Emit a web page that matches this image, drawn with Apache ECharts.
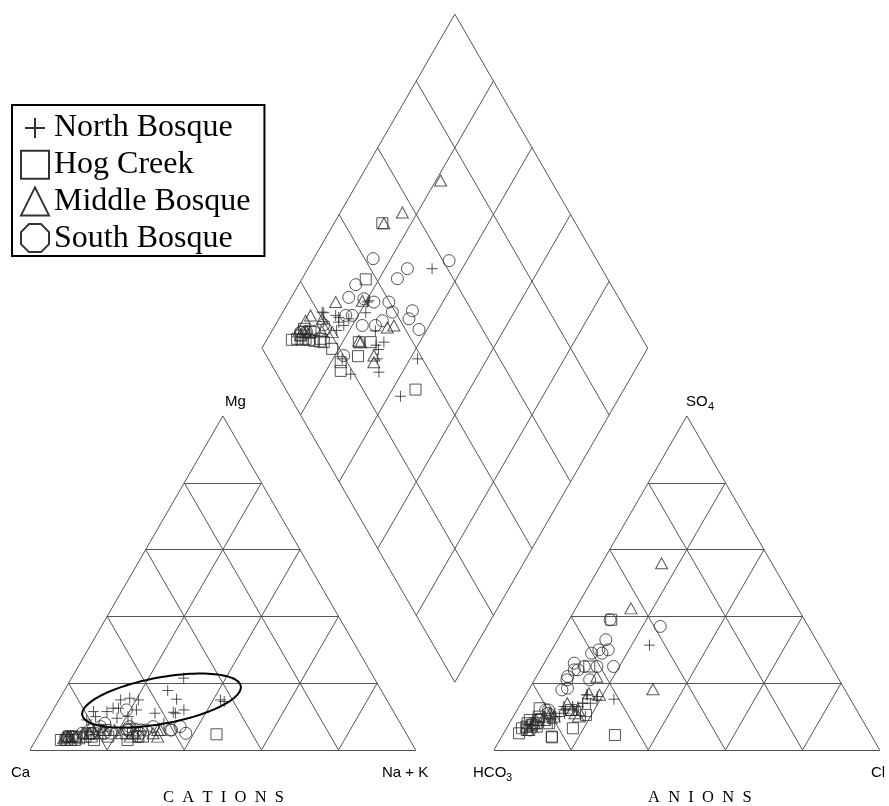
<!DOCTYPE html>
<html>
<head>
<meta charset="utf-8">
<script src="https://cdn.jsdelivr.net/npm/echarts@6/dist/echarts.min.js"></script>
<style>
  html, body { margin: 0; padding: 0; background: #fff; }
  #chart { width: 889px; height: 806px; }
</style>
</head>
<body>
<div id="chart"></div>
<script>
// Piper diagram: cation triangle, anion triangle and the central diamond.
// Each sample is given as percent of milliequivalents.

const seriesNames = ['North Bosque', 'Hog Creek', 'Middle Bosque', 'South Bosque'];
const gridTicks = [0, 20, 40, 60, 80, 100];

// North Bosque
const northMg  = [11, 11.5, 12.5, 15, 10, 9, 11.5, 15, 9.5, 17.8, 8, 11.3, 12, 15, 14.5, 11, 8, 15.5, 12, 21.5, 12.5, 15.2, 10];
const northNaK = [32.2, 10.7, 15.3, 20.6, 20.4, 10.2, 14.2, 16.0, 17.8, 26.8, 30.7, 31.5, 33.9, 41.9, 43.1, 26.9, 22.4, 18.1, 21.6, 29.1, 16.7, 30.4, 12];
const northSO4 = [31.4, 11, 12, 16, 15, 10, 12, 11, 13, 14, 16.5, 13, 12, 15.2, 10, 8, 9, 13, 16.5, 14, 10, 14, 11];
const northCl  = [24.6, 10.3, 12.5, 18.8, 19.2, 11, 12, 12.8, 11.6, 18, 16, 15.3, 14.7, 23.5, 18.7, 11.1, 10.2, 13.9, 15.7, 16, 12, 16, 9];

// Hog Creek
const hogMg  = [5, 6, 4.7, 4, 5, 4, 5, 3, 4, 3, 3, 4, 4, 3, 5, 4, 3, 3, 4, 3.5, 4];
const hogNaK = [12.5, 16.6, 46.0, 27.3, 24.2, 26.1, 22.5, 23.8, 18.3, 8.1, 7.7, 9.9, 12.4, 15.1, 13.8, 8.0, 10.2, 6.5, 9, 11, 14];
const hogSO4 = [39, 25, 4.5, 10.5, 12, 6.5, 8, 4, 12.5, 7, 6.5, 8, 7, 3.8, 10, 9, 8, 5, 6, 7.5, 9];
const hogCl  = [10.9, 12.2, 29.1, 18.6, 14, 17.2, 10.3, 13, 5.6, 4.9, 4, 4.7, 7.6, 13.1, 6.6, 4.8, 7, 4, 5.5, 6, 7];

// Middle Bosque
const midMg  = [5, 6, 5, 7, 4, 6, 5, 5, 6, 4, 4, 6, 4, 5, 5, 4, 3, 4, 3.5, 4, 5];
const midNaK = [21.2, 16.1, 12.9, 12.2, 7.7, 30.8, 29.4, 24.7, 30.1, 31.1, 8.5, 18.9, 7.2, 11.2, 15.8, 24, 9, 8, 7, 10, 13];
const midSO4 = [55.9, 42.4, 18.2, 14, 9, 21.9, 16.5, 11, 12, 10, 7, 17, 9, 11, 10, 12, 8, 6, 7, 8, 10];
const midCl  = [15.5, 14.3, 32.1, 12, 8.5, 15.7, 19.1, 15.5, 15.9, 16.9, 6.3, 16.1, 6.4, 9, 10.6, 14.2, 6, 6, 5, 6.5, 8];

// South Bosque
const southMg  = [7, 6, 6, 8, 7, 6, 12, 6, 5, 7, 6, 6, 5, 6, 4, 6, 5, 5, 7, 5, 4, 4, 5, 6];
const southNaK = [35.4, 25.8, 24.7, 15.4, 14.8, 14.9, 19.0, 22.1, 26.0, 28.4, 33.4, 33.7, 37.9, 27.1, 26.0, 22.6, 18.5, 16.8, 22.3, 13.6, 7.6, 9, 11, 12.5];
const southSO4 = [37, 39, 33, 30, 26, 22, 24, 25, 29, 25, 30, 29, 25, 21, 24, 21, 18.5, 18, 12, 12, 6, 8, 9, 11];
const southCl  = [24.6, 10.6, 12.5, 12.2, 7.8, 8.1, 9.8, 10.9, 10.8, 14.2, 14.6, 13.5, 18.5, 14.3, 8.8, 8.4, 9.8, 8.6, 8.1, 7.4, 6.4, 6, 7, 8.5];

// Ellipse drawn around the North Bosque cations (centre as Mg / Na+K percent)
const ellipseCentre = { mg: 14.8, nak: 26.7 };
const ellipseAxes = { a: 20.9, b: 6.0, angleDeg: 10.4 };

// ---- geometry (triangle side = 100 units) ----
const GAP = 20.3;
const H = Math.sqrt(3) / 2;
function cationXY(mg, nak) { return [nak + mg / 2, mg * H]; }
function anionXY(so4, cl) { return [100 + GAP + cl + so4 / 2, so4 * H]; }
function diamondXY(nak, cs) { return [(nak + 100 + GAP + cs) / 2, H * (100 + GAP + cs - nak)]; }

function samplePoints(mg, nak, so4, cl) {
  const pts = [];
  for (let i = 0; i < mg.length; i++) {
    pts.push(cationXY(mg[i], nak[i]));
    pts.push(anionXY(so4[i], cl[i]));
    pts.push(diamondXY(nak[i], so4[i] + cl[i]));
  }
  return pts;
}

// grid lines of the three fields
const gridLines = [];
gridTicks.forEach(function (p) {
  // cation triangle
  gridLines.push([cationXY(p, 0), cationXY(p, 100 - p)]);
  gridLines.push([cationXY(0, p), cationXY(100 - p, p)]);
  gridLines.push([cationXY(0, 100 - p), cationXY(100 - p, 0)]);
  // anion triangle
  gridLines.push([anionXY(p, 0), anionXY(p, 100 - p)]);
  gridLines.push([anionXY(0, p), anionXY(100 - p, p)]);
  gridLines.push([anionXY(0, 100 - p), anionXY(100 - p, 0)]);
  // diamond
  gridLines.push([diamondXY(p, 0), diamondXY(p, 100)]);
  gridLines.push([diamondXY(0, p), diamondXY(100, p)]);
});

const ellipsePts = [];
(function () {
  const c = cationXY(ellipseCentre.mg, ellipseCentre.nak);
  const t = ellipseAxes.angleDeg * Math.PI / 180;
  for (let k = 0; k <= 120; k++) {
    const u = k / 120 * 2 * Math.PI;
    const ex = ellipseAxes.a * Math.cos(u), ey = ellipseAxes.b * Math.sin(u);
    ellipsePts.push([c[0] + ex * Math.cos(t) - ey * Math.sin(t), c[1] + ex * Math.sin(t) + ey * Math.cos(t)]);
  }
})();

// pixel scale: 3.857 px per unit, Ca vertex at (30, 750)
const PX = 3.857, W = 889, HT = 806, X0 = 30, Y0 = 750;

const plusPath = 'path://M0,5H10M5,0V10';
const markerStyle = { color: 'rgba(0,0,0,0)', borderColor: '#2a2a2a', borderWidth: 1 };

const chart = echarts.init(document.getElementById('chart'), null, { renderer: 'canvas' });
chart.setOption({
  animation: false,
  backgroundColor: '#fff',
  grid: { left: 0, right: 0, top: 0, bottom: 0 },
  xAxis: { type: 'value', min: -X0 / PX, max: (W - X0) / PX, show: false },
  yAxis: { type: 'value', min: -(HT - Y0) / PX, max: Y0 / PX, show: false },
  legend: {
    orient: 'vertical',
    left: 12, top: 105,
    padding: [7, 14, 2, 8],
    borderColor: '#000', borderWidth: 2,
    itemWidth: 28, itemHeight: 28, itemGap: 4.7,
    textStyle: { fontFamily: '"Liberation Serif", serif', fontSize: 32, color: '#000' },
    itemStyle: { color: 'rgba(0,0,0,0)', borderColor: '#000', borderWidth: 2 },
    data: [
      { name: 'North Bosque', icon: 'path://M4,14H24M14,4V24M0,0M28,28' },
      { name: 'Hog Creek', icon: 'path://M1,1H27V27H1Z' },
      { name: 'Middle Bosque', icon: 'path://M14,0L28,28L0,28Z' },
      { name: 'South Bosque', icon: 'path://M8,0L20,0L28,8L28,20L20,28L8,28L0,20L0,8Z' }
    ]
  },
  graphic: [
    { type: 'text', left: 225, top: 394, style: { text: 'Mg', font: '15px "Liberation Sans"', fill: '#000' } },
    { type: 'text', left: 686, top: 394, style: { text: 'SO', font: '15px "Liberation Sans"', fill: '#000' } },
    { type: 'text', left: 708, top: 401, style: { text: '4', font: '11px "Liberation Sans"', fill: '#000' } },
    { type: 'text', left: 11, top: 765, style: { text: 'Ca', font: '15px "Liberation Sans"', fill: '#000' } },
    { type: 'text', left: 382, top: 765, style: { text: 'Na + K', font: '15px "Liberation Sans"', fill: '#000' } },
    { type: 'text', left: 473, top: 765, style: { text: 'HCO', font: '15px "Liberation Sans"', fill: '#000' } },
    { type: 'text', left: 506, top: 772, style: { text: '3', font: '11px "Liberation Sans"', fill: '#000' } },
    { type: 'text', left: 871, top: 765, style: { text: 'Cl', font: '15px "Liberation Sans"', fill: '#000' } },
    { type: 'text', left: 163, top: 789, style: { text: 'C  A  T  I  O  N  S', font: '16.5px "Liberation Serif"', fill: '#000' } },
    { type: 'text', left: 648, top: 789, style: { text: 'A  N  I  O  N  S', font: '16.5px "Liberation Serif"', fill: '#000' } }
  ],
  series: [
    {
      type: 'lines', coordinateSystem: 'cartesian2d', polyline: false, silent: true, z: 1,
      lineStyle: { color: '#555', width: 1, opacity: 1 },
      data: gridLines.map(function (c) { return { coords: c }; })
    },
    {
      type: 'line', silent: true, z: 3, showSymbol: false, symbol: 'none',
      lineStyle: { color: '#000', width: 2 },
      data: ellipsePts
    },
    { name: 'North Bosque', type: 'scatter', z: 2, symbol: plusPath, symbolSize: 11, itemStyle: markerStyle,
      data: samplePoints(northMg, northNaK, northSO4, northCl) },
    { name: 'Hog Creek', type: 'scatter', z: 2, symbol: 'rect', symbolSize: 11, itemStyle: markerStyle,
      data: samplePoints(hogMg, hogNaK, hogSO4, hogCl) },
    { name: 'Middle Bosque', type: 'scatter', z: 2, symbol: 'triangle', symbolSize: [12, 11], itemStyle: markerStyle,
      data: samplePoints(midMg, midNaK, midSO4, midCl) },
    { name: 'South Bosque', type: 'scatter', z: 2, symbol: 'circle', symbolSize: 12, itemStyle: markerStyle,
      data: samplePoints(southMg, southNaK, southSO4, southCl) }
  ]
});
</script>
</body>
</html>
